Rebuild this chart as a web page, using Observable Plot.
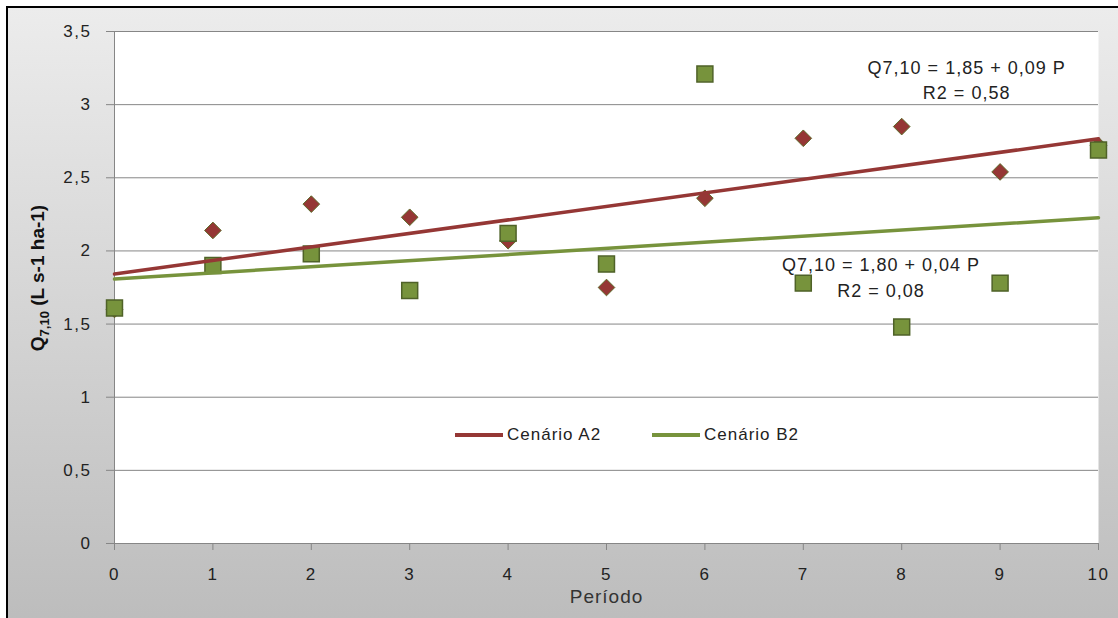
<!DOCTYPE html>
<html><head><meta charset="utf-8">
<script src="https://cdn.jsdelivr.net/npm/d3@7"></script>
<script src="https://cdn.jsdelivr.net/npm/@observablehq/plot@0.6"></script>
<style>
body{margin:0;background:#fff;}
#outer{position:relative;width:1118px;height:618px;overflow:hidden;background:#fff;}
#bg{position:absolute;left:6px;top:6px;width:1120px;height:620px;border-left:2px solid #000;border-top:2px solid #000;background:linear-gradient(#ececec,#bcbcbc);}
#chart{position:absolute;left:0;top:0;}
#chart svg [aria-label$="tick label"]{font-size:17px !important;letter-spacing:1.5px;}
.leg{position:absolute;top:425px;font:17px "Liberation Sans",sans-serif;letter-spacing:1px;color:#222;display:flex;align-items:center;}
.sw{display:inline-block;width:48px;height:4px;margin-right:4px;}
</style></head>
<body><div id="outer"><div id="bg"></div><div id="chart"></div>
<div class="leg" style="left:455px"><span class="sw" style="background:#953735"></span>Cenário A2</div>
<div class="leg" style="left:652px"><span class="sw" style="background:#77933c"></span>Cenário B2</div>
</div>
<script>
const periods = [0,1,2,3,4,5,6,7,8,9,10];
const cenarioA2 = [1.60,2.14,2.32,2.23,2.07,1.75,2.36,2.77,2.85,2.54,2.72];
const cenarioB2 = [1.61,1.90,1.98,1.73,2.12,1.91,3.21,1.78,1.48,1.78,2.69];
const yTicks = [0,0.5,1,1.5,2,2.5,3,3.5];
const xTicks = [0,1,2,3,4,5,6,7,8,9,10];
const eqA2 = ["Q7,10 = 1,85 + 0,09 P","R2 = 0,58"];
const eqB2 = ["Q7,10 = 1,80 + 0,04 P","R2 = 0,08"];
const eqPos = [{x:8.66,y:3.25},{x:8.66,y:3.075},{x:7.79,y:1.90},{x:7.79,y:1.725}];

const A = periods.map((p,i)=>({x:p,y:cenarioA2[i]}));
const B = periods.map((p,i)=>({x:p,y:cenarioB2[i]}));
const ann = [...eqA2, ...eqB2].map((t,i)=>({t, ...eqPos[i]}));
const fmt = d => String(d).replace(".", ",");
const font = '"Liberation Sans",sans-serif';

const plot = Plot.plot({
  width:1118, height:618,
  marginLeft:114, marginRight:20, marginTop:31, marginBottom:75,
  style:{background:"transparent", fontFamily:font, fontSize:"16px", color:"#222", letterSpacing:"1px"},
  x:{domain:[0,10]},
  y:{domain:[0,3.5]},
  marks:[
    Plot.frame({fill:"white", stroke:null}),
    Plot.gridY(yTicks, {stroke:"#868686", strokeOpacity:1}),
    Plot.ruleX([0], {stroke:"#868686", y1:0, y2:3.5}),
    Plot.ruleY([0], {stroke:"#868686"}),
    Plot.axisY(yTicks, {tickFormat:fmt, tickSize:8, tickPadding:15, stroke:"#868686", fontSize:17, label:null}),
    Plot.axisX(xTicks, {tickFormat:fmt, tickSize:7, tickPadding:17, stroke:"#868686", fontSize:17, label:null}),
    Plot.dot(A, {x:"x", y:"y", symbol:"diamond2", r:7.5, fill:"#953735", stroke:"#5e6b2a", strokeWidth:1}),
    Plot.dot(B, {x:"x", y:"y", symbol:"square", r:9, fill:"#77933c", stroke:"#4f6228", strokeWidth:1.5}),
    Plot.linearRegressionY(A, {x:"x", y:"y", stroke:"#953735", strokeWidth:3.5, ci:0}),
    Plot.linearRegressionY(B, {x:"x", y:"y", stroke:"#77933c", strokeWidth:3.5, ci:0}),
    Plot.text(ann, {x:"x", y:"y", text:"t", fontSize:18, fill:"#222"}),
    Plot.text(["Período"], {frameAnchor:"bottom", dy:59, fontSize:19, fill:"#333"})
  ]
});
document.getElementById("chart").appendChild(plot);
const svg = d3.select(plot);
const lab = svg.append("text")
  .attr("transform","translate(44,278) rotate(-90)")
  .attr("text-anchor","middle")
  .attr("font-family",font).attr("font-size",19).attr("font-weight","bold").attr("fill","#111").attr("letter-spacing","0px");
lab.append("tspan").text("Q");
lab.append("tspan").attr("font-size",13).attr("dy",5).text("7,10");
lab.append("tspan").attr("dy",-5).text(" (L s-1 ha-1)");
</script>
</body></html>
